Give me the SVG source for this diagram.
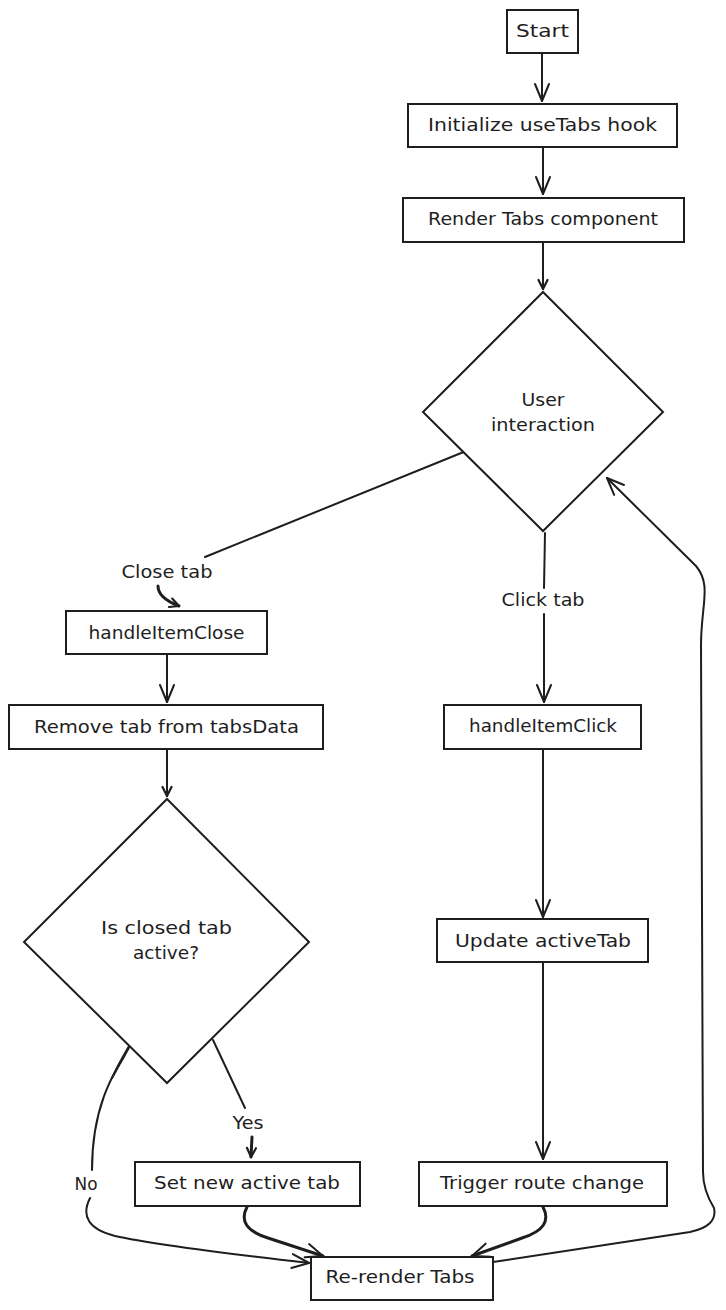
<svg xmlns="http://www.w3.org/2000/svg" width="726" height="1310" viewBox="0 0 726 1310">
  <style>
    .box { fill: #ffffff; stroke: #1e1e1e; stroke-width: 2; }
    .lbl { font-family: "DejaVu Sans", "Liberation Sans", sans-serif; font-size: 17.5px; fill: #1e1e1e; text-anchor: middle; dominant-baseline: central; }
    .edge { fill: none; stroke: #1e1e1e; stroke-width: 2; stroke-linecap: round; stroke-linejoin: round; }
    .thick { stroke-width: 3; }
  </style>
  <defs>
    <marker id="arrow" markerUnits="userSpaceOnUse" viewBox="-20 -10 24 20" refX="0" refY="0" markerWidth="24" markerHeight="20" orient="auto" overflow="visible">
      <path d="M -17 -7 L 0 0 L -17 7" fill="none" stroke="#1e1e1e" stroke-width="2" stroke-linecap="round" stroke-linejoin="round"/>
    </marker>
    <marker id="arrow-sm" markerUnits="userSpaceOnUse" viewBox="-12 -8 14 16" refX="0" refY="0" markerWidth="14" markerHeight="16" orient="auto" overflow="visible">
      <path d="M -9 -4.5 L 0 0 L -9 4.5" fill="none" stroke="#1e1e1e" stroke-width="2.2" stroke-linecap="round" stroke-linejoin="round"/>
    </marker>
  </defs>

  <rect width="726" height="1310" fill="#ffffff"/>

  <!-- connectors -->
  <g id="connectors">
    <path class="edge" d="M 542 53 L 542 101" marker-end="url(#arrow)"/>
    <path class="edge" d="M 543 147 L 543 194" marker-end="url(#arrow)"/>
    <path class="edge" d="M 543 242 L 543 289" marker-end="url(#arrow-sm)"/>

    <!-- Close tab branch -->
    <path class="edge" d="M 471 449 L 205 557" stroke-width="2.6"/>
    <path class="edge thick" d="M 158 586 Q 158 598 179 606" marker-end="url(#arrow-sm)"/>
    <path class="edge" d="M 167 654 L 167 702" marker-end="url(#arrow)"/>
    <path class="edge" d="M 167 749 L 167 796" marker-end="url(#arrow-sm)"/>

    <!-- Click tab branch -->
    <path class="edge" d="M 545 533 L 544 588" stroke-width="3.5"/>
    <path class="edge" d="M 544 614 L 544 702" marker-end="url(#arrow)"/>
    <path class="edge" d="M 543 749 L 543 917" marker-end="url(#arrow)"/>
    <path class="edge" d="M 543 962 L 543 1159" marker-end="url(#arrow)"/>

    <!-- Yes / No -->
    <path class="edge" d="M 213 1040 L 245 1108" stroke-width="2.4"/>
    <path class="edge thick" d="M 252 1137 L 251 1157" marker-end="url(#arrow-sm)"/>
    <path class="edge" d="M 132 1041 C 110 1078 92 1110 92 1170" stroke-width="2.4"/>
    <path class="edge" d="M 130 1046 L 112 1078" stroke="#777777" stroke-width="1" stroke-dasharray="2 1.5"/>
    <path class="edge" d="M 90 1198 Q 76 1226 115 1236 Q 160 1246 309 1263" marker-end="url(#arrow)"/>

    <!-- into Re-render Tabs -->
    <path class="edge thick" d="M 247 1207 Q 236 1228 268 1238 L 323 1256" marker-end="url(#arrow)"/>
    <path class="edge thick" d="M 543 1207 Q 554 1228 522 1238 L 472 1256" marker-end="url(#arrow)"/>

    <!-- loop back to User interaction -->
    <path class="edge" d="M 493 1262 L 690 1232 Q 718 1226 714 1208 Q 703 1190 703 1172 L 701 645 C 701 605 712 585 696 566 L 607 478" marker-end="url(#arrow)"/>
  </g>

  <!-- connector labels -->
  <g id="edge-labels">
    <text class="lbl" x="167" y="572" textLength="91" lengthAdjust="spacingAndGlyphs">Close tab</text>
    <text class="lbl" x="543" y="600" textLength="83" lengthAdjust="spacingAndGlyphs">Click tab</text>
    <text class="lbl" x="248" y="1123" textLength="31" lengthAdjust="spacingAndGlyphs">Yes</text>
    <text class="lbl" x="86" y="1184" textLength="23" lengthAdjust="spacingAndGlyphs">No</text>
  </g>

  <!-- nodes -->
  <g id="start">
    <rect class="box" x="507" y="10" width="71" height="43"/>
    <text class="lbl" x="542.5" y="31" textLength="53" lengthAdjust="spacingAndGlyphs">Start</text>
  </g>
  <g id="init-hook">
    <rect class="box" x="408" y="104" width="269" height="43"/>
    <text class="lbl" x="542.5" y="125" textLength="229" lengthAdjust="spacingAndGlyphs">Initialize useTabs hook</text>
  </g>
  <g id="render-tabs">
    <rect class="box" x="403" y="198" width="281" height="44"/>
    <text class="lbl" x="543" y="219" textLength="230" lengthAdjust="spacingAndGlyphs">Render Tabs component</text>
  </g>
  <g id="user-interaction">
    <polygon class="box" points="543,292 663,412 543,531 423,412"/>
    <text class="lbl" x="543" y="400" textLength="43" lengthAdjust="spacingAndGlyphs">User</text>
    <text class="lbl" x="543" y="425" textLength="104" lengthAdjust="spacingAndGlyphs">interaction</text>
  </g>
  <g id="handle-item-close">
    <rect class="box" x="66" y="611" width="201" height="43"/>
    <text class="lbl" x="166.5" y="633" textLength="156" lengthAdjust="spacingAndGlyphs">handleItemClose</text>
  </g>
  <g id="remove-tab">
    <rect class="box" x="9" y="705" width="314" height="44"/>
    <text class="lbl" x="166.5" y="727" textLength="265" lengthAdjust="spacingAndGlyphs">Remove tab from tabsData</text>
  </g>
  <g id="is-closed-active">
    <polygon class="box" points="167,799 309,942 167,1083 24,942"/>
    <text class="lbl" x="166.5" y="928" textLength="131" lengthAdjust="spacingAndGlyphs">Is closed tab</text>
    <text class="lbl" x="166" y="953" textLength="66" lengthAdjust="spacingAndGlyphs">active?</text>
  </g>
  <g id="handle-item-click">
    <rect class="box" x="444" y="705" width="197" height="44"/>
    <text class="lbl" x="543" y="726" textLength="148" lengthAdjust="spacingAndGlyphs">handleItemClick</text>
  </g>
  <g id="update-active-tab">
    <rect class="box" x="437" y="919" width="211" height="43"/>
    <text class="lbl" x="543" y="941" textLength="176" lengthAdjust="spacingAndGlyphs">Update activeTab</text>
  </g>
  <g id="set-new-active">
    <rect class="box" x="135" y="1162" width="225" height="44"/>
    <text class="lbl" x="247" y="1183" textLength="186" lengthAdjust="spacingAndGlyphs">Set new active tab</text>
  </g>
  <g id="trigger-route">
    <rect class="box" x="419" y="1162" width="248" height="44"/>
    <text class="lbl" x="542" y="1183" textLength="204" lengthAdjust="spacingAndGlyphs">Trigger route change</text>
  </g>
  <g id="rerender-tabs">
    <rect class="box" x="311" y="1257" width="182" height="43"/>
    <text class="lbl" x="400" y="1277" textLength="149" lengthAdjust="spacingAndGlyphs">Re-render Tabs</text>
  </g>
</svg>
